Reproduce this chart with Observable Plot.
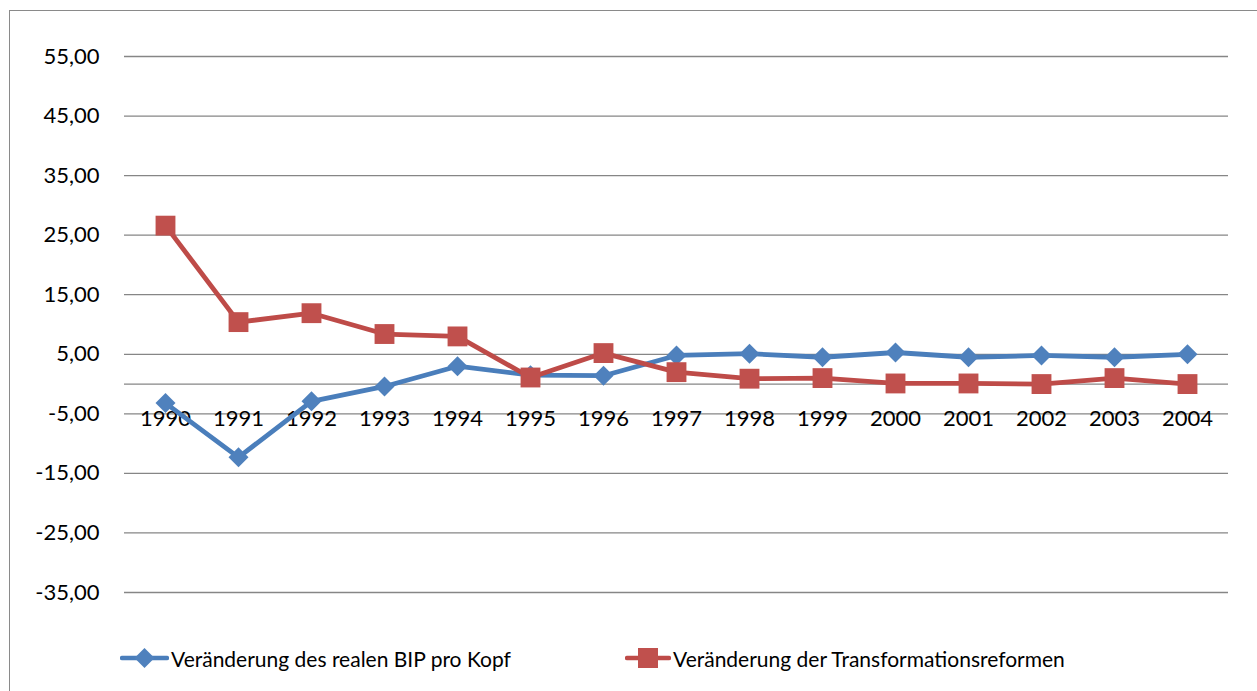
<!DOCTYPE html>
<html>
<head>
<meta charset="utf-8">
<script src="https://cdn.jsdelivr.net/npm/d3@7"></script>
<script src="https://cdn.jsdelivr.net/npm/@observablehq/plot@0.6"></script>
<style>
  html, body { margin: 0; padding: 0; background: #fff; overflow: hidden; width: 1257px; height: 691px; }
  #frame { position: absolute; left: 8.5px; top: 10px; width: 1300px; height: 720px; border: 1px solid #8a8a8a; background: #fff; }
  #chart { position: absolute; left: 0; top: 0; }
  .leg { position: absolute; top: 634px; height: 26px; display: flex; align-items: center; font-family: Lato, sans-serif; font-size: 21px; color: #000; white-space: nowrap; }
  .leg svg { margin-right: 2px; }
</style>
</head>
<body>
<div id="frame">
  <div id="chart"></div>
  <div class="leg" id="leg1" style="left:110.5px"></div>
  <div class="leg" id="leg2" style="left:615.5px"></div>
</div>
<script>
const years = ["1990","1991","1992","1993","1994","1995","1996","1997","1998","1999","2000","2001","2002","2003","2004"];
const bip = [-3.2, -12.3, -2.9, -0.4, 3.0, 1.5, 1.4, 4.8, 5.1, 4.5, 5.3, 4.5, 4.8, 4.5, 5.0];
const reform = [26.6, 10.4, 11.9, 8.4, 8.0, 1.1, 5.2, 2.0, 0.9, 1.0, 0.1, 0.1, 0.0, 1.0, 0.0];
const yTicks = [-35, -25, -15, -5, 5, 15, 25, 35, 45, 55];
const seriesNames = ["Veränderung des realen BIP pro Kopf", "Veränderung der Transformationsreformen"];
const lineColors = ["#4A7EBB", "#BE4B48"];
const markerColors = ["#4F81BD", "#C0504D"];

const rows = years.map((year, i) => ({year, bip: bip[i], reform: reform[i]}));
const fmt = d => d.toFixed(2).replace(".", ",");

const chart = Plot.plot({
  width: 1238,
  height: 620,
  marginLeft: 114,
  marginRight: 20,
  marginTop: 45,
  marginBottom: 39,
  style: {fontFamily: "Lato, sans-serif", fontSize: "22px", color: "#000", background: "transparent"},
  x: {type: "point", domain: years, padding: 0.5, axis: null},
  y: {domain: [-35, 55]},
  marks: [
    Plot.ruleY(yTicks, {stroke: "#868686", strokeWidth: 1.3, strokeOpacity: 1}),
    Plot.ruleY([0], {stroke: "#868686", strokeWidth: 1.3, strokeOpacity: 1}),
    Plot.axisY({ticks: yTicks, tickSize: 0, tickPadding: 25, tickFormat: fmt, label: null, fontSize: 22}),
    Plot.text(rows, {x: "year", y: 0, text: "year", dy: 35, fontSize: 22, fill: "#000"}),
    Plot.line(rows, {x: "year", y: "bip", stroke: lineColors[0], strokeWidth: 4.8}),
    Plot.dot(rows, {x: "year", y: "bip", symbol: "diamond2", r: 9, fill: markerColors[0], stroke: "none"}),
    Plot.line(rows, {x: "year", y: "reform", stroke: lineColors[1], strokeWidth: 4.8}),
    Plot.dot(rows, {x: "year", y: "reform", symbol: "square", r: 11.2, fill: markerColors[1], stroke: "none"})
  ]
});
document.getElementById("chart").appendChild(chart);

function swatch(i, w) {
  const m = i === 0
    ? `<path d="M${w/2},3 L${w/2+10},13 L${w/2},23 L${w/2-10},13 Z" fill="${markerColors[0]}"/>`
    : `<rect x="${w/2-10}" y="3" width="20" height="20" fill="${markerColors[1]}"/>`;
  return `<svg width="${w}" height="26"><line x1="2" y1="13" x2="${w-2}" y2="13" stroke="${lineColors[i]}" stroke-width="4.5" stroke-linecap="round"/>${m}</svg>`;
}
document.getElementById("leg1").innerHTML = swatch(0, 49) + `<span>${seriesNames[0]}</span>`;
document.getElementById("leg2").innerHTML = swatch(1, 46) + `<span>${seriesNames[1]}</span>`;
</script>
</body>
</html>
